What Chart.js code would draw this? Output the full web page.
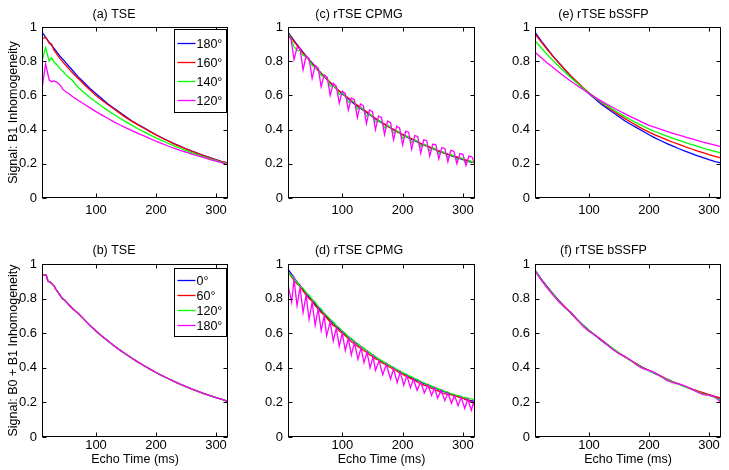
<!DOCTYPE html>
<html>
<head>
<meta charset="utf-8">
<script src="https://cdn.jsdelivr.net/npm/chart.js@4"></script>
<style>
    body { margin: 0; background: #fff; }
    #figura { position: relative; width: 729px; height: 470px; background: #fff; }
    .painel { position: absolute; width: 243px; height: 235px; }
</style>
</head>
<body>
<div id="figura">
    <div class="painel" style="left:0px;top:0px"><canvas id="graficoA"></canvas></div>
    <div class="painel" style="left:243px;top:0px"><canvas id="graficoC"></canvas></div>
    <div class="painel" style="left:486px;top:0px"><canvas id="graficoE"></canvas></div>
    <div class="painel" style="left:0px;top:235px"><canvas id="graficoB"></canvas></div>
    <div class="painel" style="left:243px;top:235px"><canvas id="graficoD"></canvas></div>
    <div class="painel" style="left:486px;top:235px"><canvas id="graficoF"></canvas></div>
</div>
<script>
// eixos
const marcasX = [100, 200, 300];
const marcasY = [0, 0.2, 0.4, 0.6, 0.8, 1];

// tempos de eco (ms)
const tempos10 = [10, 20, 30, 40, 50, 60, 70, 80, 90, 100, 110, 120, 130, 140, 150, 160,
    170, 180, 190, 200, 210, 220, 230, 240, 250, 260, 270, 280, 290, 300, 310, 320];
const tempos5 = [10, 15, 20, 25, 30, 35, 40, 45, 50, 55, 60, 65, 70, 75, 80, 85, 90, 95, 100,
    105, 110, 115, 120, 125, 130, 135, 140, 145, 150, 155, 160, 165, 170, 175, 180, 185, 190,
    195, 200, 205, 210, 215, 220, 225, 230, 235, 240, 245, 250, 255, 260, 265, 270, 275, 280,
    285, 290, 295, 300, 305, 310, 315, 320];
const temposA = [10, 16, 22, 26, 30, 36, 40, 45, 50, 55, 60, 70, 80, 90, 100, 110, 120, 130,
    140, 150, 160, 170, 180, 190, 200, 210, 220, 230, 240, 250, 260, 270, 280, 290, 300, 310, 320];
const temposB = [10, 17, 20, 24, 27, 30, 33, 37, 40, 44, 48, 52, 56, 60, 70, 80, 90, 100, 110,
    120, 130, 140, 150, 160, 170, 180, 190, 200, 210, 220, 230, 240, 250, 260, 270, 280, 290,
    300, 310, 320];
const temposMagentaD = [10, 16, 20, 25, 30, 35, 40, 45, 50, 55, 60, 65, 70, 74, 80, 85, 90, 95,
    100, 105, 110, 115, 120, 126, 131, 136, 141, 146, 151, 155, 161, 167, 173, 180, 185, 191,
    196, 202, 207, 213, 218, 224, 230, 236, 242, 248, 253, 258, 264, 270, 275, 281, 286, 292,
    297, 303, 308, 314, 318, 320];

// curva de referencia (azul)
const azulRef = [0.97, 0.92, 0.875, 0.83, 0.79, 0.75, 0.71, 0.675, 0.64, 0.61, 0.58, 0.55,
    0.525, 0.5, 0.475, 0.45, 0.43, 0.41, 0.39, 0.37, 0.352, 0.335, 0.318, 0.303, 0.288, 0.274,
    0.261, 0.248, 0.236, 0.224, 0.213, 0.205];

// (a) TSE, B1
const vermelhoA = [0.93, 0.94, 0.905, 0.9, 0.865, 0.835, 0.815, 0.795, 0.775, 0.755, 0.735,
    0.7, 0.665, 0.632, 0.6, 0.572, 0.545, 0.52, 0.495, 0.47, 0.448, 0.428, 0.408, 0.388, 0.369,
    0.351, 0.334, 0.317, 0.302, 0.287, 0.273, 0.26, 0.247, 0.235, 0.223, 0.212, 0.203];
const verdeA = [0.8, 0.88, 0.8, 0.82, 0.795, 0.775, 0.755, 0.74, 0.72, 0.705, 0.69,
    0.648, 0.617, 0.588, 0.561, 0.535, 0.511, 0.488, 0.466, 0.445, 0.425, 0.405, 0.387, 0.369,
    0.352, 0.336, 0.32, 0.305, 0.291, 0.277, 0.264, 0.252, 0.24, 0.229, 0.219, 0.209, 0.2];
const magentaA = [0.64, 0.785, 0.69, 0.68, 0.685, 0.675, 0.66, 0.635, 0.62, 0.61, 0.595,
    0.572, 0.55, 0.527, 0.505, 0.485, 0.465, 0.445, 0.427, 0.41, 0.394, 0.378, 0.363, 0.347,
    0.332, 0.318, 0.304, 0.291, 0.279, 0.268, 0.257, 0.246, 0.236, 0.225, 0.215, 0.206, 0.195];

// (b) TSE, B0 + B1 (as quatro curvas coincidem)
const curvaB = [0.935, 0.935, 0.9, 0.895, 0.885, 0.875, 0.855, 0.835, 0.82, 0.8, 0.79, 0.775,
    0.76, 0.745, 0.715, 0.68, 0.645, 0.613, 0.583, 0.555, 0.528, 0.502, 0.478, 0.455, 0.433,
    0.412, 0.392, 0.373, 0.355, 0.338, 0.322, 0.306, 0.291, 0.277, 0.264, 0.251, 0.239, 0.228,
    0.217, 0.205];

// (c) rTSE CPMG, B1
const vermelhoC = [0.965, 0.915, 0.87, 0.825, 0.785, 0.745, 0.71, 0.675, 0.64, 0.612, 0.585,
    0.555, 0.53, 0.505, 0.478, 0.455, 0.432, 0.41, 0.39, 0.372, 0.355, 0.338, 0.318, 0.305,
    0.29, 0.275, 0.262, 0.25, 0.24, 0.228, 0.217, 0.205];
const verdeC = [0.965, 0.93, 0.885, 0.865, 0.86, 0.835, 0.825, 0.81, 0.775, 0.765, 0.755,
    0.715, 0.71, 0.7, 0.655, 0.655, 0.645, 0.605, 0.615, 0.6, 0.56, 0.57, 0.56, 0.52, 0.53,
    0.52, 0.48, 0.49, 0.48, 0.445, 0.455, 0.445, 0.41, 0.425, 0.415, 0.38, 0.395, 0.385, 0.35,
    0.365, 0.357, 0.325, 0.34, 0.332, 0.3, 0.315, 0.308, 0.278, 0.293, 0.286, 0.258, 0.272,
    0.266, 0.238, 0.253, 0.247, 0.222, 0.236, 0.23, 0.205, 0.218, 0.213, 0.2];
const magentaC = [0.95, 0.93, 0.81, 0.88, 0.875, 0.75, 0.83, 0.815, 0.7, 0.775, 0.76, 0.65,
    0.72, 0.705, 0.6, 0.67, 0.655, 0.555, 0.625, 0.61, 0.515, 0.585, 0.575, 0.47, 0.55, 0.54,
    0.435, 0.515, 0.505, 0.4, 0.48, 0.47, 0.37, 0.45, 0.44, 0.34, 0.42, 0.41, 0.31, 0.39, 0.385,
    0.285, 0.365, 0.36, 0.262, 0.34, 0.335, 0.245, 0.315, 0.312, 0.228, 0.295, 0.29, 0.212,
    0.278, 0.272, 0.2, 0.26, 0.255, 0.19, 0.245, 0.24, 0.2];

// (d) rTSE CPMG, B0 + B1
const vermelhoD = [0.955, 0.93, 0.905, 0.885, 0.87, 0.845, 0.82, 0.8, 0.785, 0.76, 0.74, 0.72,
    0.705, 0.685, 0.665, 0.645, 0.635, 0.612, 0.6, 0.585, 0.57, 0.55, 0.54, 0.525, 0.515, 0.5,
    0.49, 0.475, 0.465, 0.452, 0.445, 0.43, 0.422, 0.41, 0.402, 0.39, 0.383, 0.37, 0.365, 0.352,
    0.345, 0.335, 0.328, 0.315, 0.31, 0.3, 0.295, 0.285, 0.28, 0.27, 0.265, 0.255, 0.25, 0.245,
    0.245, 0.24, 0.235, 0.228, 0.225, 0.215, 0.21, 0.2, 0.19];
const verdeD = [0.95, 0.935, 0.915, 0.895, 0.87, 0.86, 0.835, 0.82, 0.795, 0.78, 0.755, 0.74,
    0.715, 0.7, 0.68, 0.665, 0.645, 0.632, 0.612, 0.6, 0.58, 0.57, 0.552, 0.542, 0.525, 0.515,
    0.5, 0.49, 0.475, 0.465, 0.45, 0.442, 0.43, 0.422, 0.41, 0.402, 0.39, 0.383, 0.372, 0.365,
    0.355, 0.348, 0.338, 0.332, 0.32, 0.315, 0.305, 0.3, 0.29, 0.285, 0.276, 0.272, 0.263, 0.26,
    0.25, 0.247, 0.24, 0.237, 0.23, 0.228, 0.222, 0.22, 0.215];
const magentaD = [0.88, 0.78, 0.91, 0.76, 0.865, 0.72, 0.82, 0.68, 0.78, 0.645, 0.74, 0.615,
    0.7, 0.585, 0.665, 0.555, 0.63, 0.525, 0.6, 0.5, 0.57, 0.475, 0.545, 0.45, 0.515, 0.43,
    0.49, 0.4, 0.465, 0.385, 0.44, 0.36, 0.42, 0.335, 0.395, 0.315, 0.375, 0.3, 0.355, 0.285,
    0.335, 0.27, 0.318, 0.255, 0.3, 0.24, 0.285, 0.225, 0.27, 0.21, 0.255, 0.195, 0.24, 0.18,
    0.23, 0.165, 0.22, 0.155, 0.205, 0.155];

// (e) rTSE bSSFP, B1
const vermelhoE = [0.96, 0.914, 0.87, 0.828, 0.788, 0.75, 0.714, 0.68, 0.647, 0.616, 0.587,
    0.56, 0.534, 0.51, 0.486, 0.464, 0.443, 0.423, 0.403, 0.385, 0.369, 0.354, 0.34, 0.326,
    0.313, 0.3, 0.288, 0.276, 0.265, 0.254, 0.244, 0.234];
const verdeE = [0.92, 0.88, 0.841, 0.804, 0.769, 0.735, 0.703, 0.672, 0.642, 0.614, 0.587,
    0.563, 0.54, 0.518, 0.496, 0.476, 0.456, 0.438, 0.42, 0.403, 0.389, 0.375, 0.362, 0.349,
    0.337, 0.325, 0.314, 0.303, 0.292, 0.282, 0.272, 0.263];
const magentaE = [0.852, 0.821, 0.791, 0.763, 0.735, 0.708, 0.683, 0.658, 0.634, 0.611, 0.589,
    0.568, 0.548, 0.529, 0.51, 0.492, 0.474, 0.458, 0.441, 0.425, 0.413, 0.401, 0.39, 0.378,
    0.368, 0.357, 0.347, 0.337, 0.327, 0.318, 0.309, 0.3];

// (f) rTSE bSSFP, B0 + B1
const azulF = [0.965, 0.915, 0.87, 0.828, 0.788, 0.75, 0.715, 0.68, 0.648, 0.617, 0.588, 0.56,
    0.534, 0.509, 0.485, 0.463, 0.441, 0.421, 0.402, 0.384, 0.366, 0.35, 0.334, 0.319, 0.305,
    0.291, 0.278, 0.266, 0.254, 0.243, 0.232, 0.222];
const vermelhoF = [0.96, 0.91, 0.868, 0.826, 0.785, 0.752, 0.717, 0.678, 0.645, 0.615, 0.59,
    0.562, 0.536, 0.51, 0.484, 0.462, 0.442, 0.422, 0.4, 0.385, 0.37, 0.352, 0.333, 0.318,
    0.307, 0.293, 0.28, 0.267, 0.256, 0.245, 0.235, 0.225];
const verdeF = [0.965, 0.912, 0.865, 0.825, 0.783, 0.745, 0.718, 0.683, 0.646, 0.614, 0.59,
    0.563, 0.537, 0.512, 0.487, 0.462, 0.44, 0.418, 0.398, 0.383, 0.368, 0.35, 0.331, 0.317,
    0.304, 0.29, 0.276, 0.263, 0.25, 0.24, 0.228, 0.212];
const magentaF = [0.96, 0.91, 0.862, 0.82, 0.78, 0.748, 0.72, 0.68, 0.64, 0.61, 0.59, 0.565,
    0.535, 0.505, 0.482, 0.465, 0.443, 0.415, 0.395, 0.385, 0.372, 0.35, 0.325, 0.315, 0.305,
    0.295, 0.278, 0.26, 0.245, 0.24, 0.232, 0.2];

const legendaB1 = ["180°", "160°", "140°", "120°"];
const legendaB0 = ["0°", "60°", "120°", "180°"];

const cores = ["#0000ff", "#ff0000", "#00ff00", "#ff00ff"];

Chart.defaults.font.family = "'Liberation Sans', Arial, Helvetica, sans-serif";
Chart.defaults.font.size = 13;
Chart.defaults.color = "#000";

function pontos(tempos, valores) {
    return tempos.map((t, i) => ({ x: t, y: valores[i] }));
}

// moldura fechada, marcas para dentro e legenda dentro do eixo
const moldura = {
    id: "moldura",
    afterDatasetsDraw(grafico, args, opcoes) {
        const { ctx, chartArea, scales } = grafico;
        const esq = Math.round(chartArea.left) + 0.5;
        const dir = Math.round(chartArea.right) - 0.5;
        const cima = Math.round(chartArea.top) + 0.5;
        const baixo = Math.round(chartArea.bottom) - 0.5;
        ctx.save();
        ctx.strokeStyle = "#000";
        ctx.lineWidth = 1;
        ctx.strokeRect(esq, cima, dir - esq, baixo - cima);
        ctx.beginPath();
        scales.x.ticks.forEach((m) => {
            const px = Math.round(scales.x.getPixelForValue(m.value)) + 0.5;
            ctx.moveTo(px, baixo); ctx.lineTo(px, baixo - 4);
            ctx.moveTo(px, cima); ctx.lineTo(px, cima + 4);
        });
        scales.y.ticks.forEach((m) => {
            const py = Math.round(scales.y.getPixelForValue(m.value)) + 0.5;
            ctx.moveTo(esq, py); ctx.lineTo(esq + 4, py);
            ctx.moveTo(dir, py); ctx.lineTo(dir - 4, py);
        });
        ctx.stroke();

        if (opcoes.legenda) {
            const lg = opcoes.legenda;
            const x0 = Math.round(chartArea.right) - lg.largura - 1.5;
            const y0 = cima + lg.topo;
            ctx.fillStyle = "#fff";
            ctx.fillRect(x0, y0, lg.largura, lg.altura);
            ctx.strokeRect(x0, y0, lg.largura, lg.altura);
            ctx.font = "12.5px 'Liberation Sans', Arial, sans-serif";
            ctx.textBaseline = "middle";
            ctx.textAlign = "left";
            grafico.data.datasets.forEach((ds, i) => {
                const yy = Math.round(y0 + lg.primeiro + i * lg.passo) + 0.5;
                ctx.strokeStyle = ds.borderColor;
                ctx.lineWidth = 1.3;
                ctx.beginPath();
                ctx.moveTo(x0 + 3, yy);
                ctx.lineTo(x0 + 21, yy);
                ctx.stroke();
                ctx.fillStyle = "#000";
                ctx.fillText(ds.label, x0 + 22, yy + 1);
            });
        }
        ctx.restore();
    },
};

function criarPainel(id, titulo, coluna, linha, series, legenda) {
    const esquerdas = [42, 45, 49];
    const margensDir = [15, 11, 8];
    const alturaX = linha === 0 ? 37 : 33;
    const datasets = series.map((s, i) => ({
        label: s[0],
        data: pontos(s[1], s[2]),
        borderColor: cores[i],
        borderWidth: 1.3,
        pointRadius: 0,
        tension: 0,
        fill: false,
        order: series.length - i,
    }));
    return new Chart(document.getElementById(id), {
        type: "line",
        data: { datasets },
        options: {
            responsive: true,
            maintainAspectRatio: false,
            animation: false,
            layout: { padding: { left: 0, right: margensDir[coluna], top: 0, bottom: 0 } },
            plugins: {
                legend: { display: false },
                tooltip: { enabled: false },
                title: {
                    display: true,
                    text: titulo,
                    font: { size: 12.5, weight: "normal" },
                    padding: linha === 0 ? { top: 7, bottom: 5 } : { top: 8.5, bottom: 5.5 },
                },
                moldura: { legenda },
            },
            scales: {
                x: {
                    type: "linear",
                    min: 10,
                    max: 320,
                    grid: { display: false, drawTicks: false },
                    border: { display: false },
                    ticks: { padding: linha === 0 ? 5 : 0.5, callback: (v) => String(v) },
                    afterBuildTicks: (escala) => { escala.ticks = marcasX.map((v) => ({ value: v })); },
                    afterFit: (escala) => { escala.height = alturaX; },
                    title: {
                        display: linha === 1,
                        text: "Echo Time (ms)",
                        font: { size: 12.5 },
                        padding: { top: 0, bottom: 3 },
                    },
                },
                y: {
                    type: "linear",
                    min: 0,
                    max: 1,
                    grid: { display: false, drawTicks: false },
                    border: { display: false },
                    ticks: { padding: 5, callback: (v) => String(v) },
                    afterBuildTicks: (escala) => { escala.ticks = marcasY.map((v) => ({ value: v })); },
                    afterFit: (escala) => { escala.width = esquerdas[coluna]; },
                    title: {
                        display: coluna === 0,
                        text: linha === 0 ? "Signal: B1 Inhomogeneity" : "Signal: B0 + B1 Inhomogeneity",
                        font: { size: 12.5 },
                        padding: { top: 6, bottom: 0 },
                    },
                },
            },
        },
        plugins: [moldura],
    });
}

criarPainel("graficoA", "(a) TSE", 0, 0, [
    [legendaB1[0], tempos10, azulRef],
    [legendaB1[1], temposA, vermelhoA],
    [legendaB1[2], temposA, verdeA],
    [legendaB1[3], temposA, magentaA],
], { largura: 52, altura: 83, topo: 2, primeiro: 13, passo: 19 });

criarPainel("graficoB", "(b) TSE", 0, 1, [
    [legendaB0[0], temposB, curvaB],
    [legendaB0[1], temposB, curvaB],
    [legendaB0[2], temposB, curvaB],
    [legendaB0[3], temposB, curvaB],
], { largura: 52, altura: 68, topo: 4, primeiro: 11, passo: 15 });

criarPainel("graficoC", "(c) rTSE CPMG", 1, 0, [
    ["azul", tempos10, azulRef],
    ["vermelho", tempos10, vermelhoC],
    ["verde", tempos5, verdeC],
    ["magenta", tempos5, magentaC],
], null);

criarPainel("graficoD", "(d) rTSE CPMG", 1, 1, [
    ["azul", tempos10, azulRef],
    ["vermelho", tempos5, vermelhoD],
    ["verde", tempos5, verdeD],
    ["magenta", temposMagentaD, magentaD],
], null);

criarPainel("graficoE", "(e) rTSE bSSFP", 2, 0, [
    ["azul", tempos10, azulRef],
    ["vermelho", tempos10, vermelhoE],
    ["verde", tempos10, verdeE],
    ["magenta", tempos10, magentaE],
], null);

criarPainel("graficoF", "(f) rTSE bSSFP", 2, 1, [
    ["azul", tempos10, azulF],
    ["vermelho", tempos10, vermelhoF],
    ["verde", tempos10, verdeF],
    ["magenta", tempos10, magentaF],
], null);
</script>
</body>
</html>
